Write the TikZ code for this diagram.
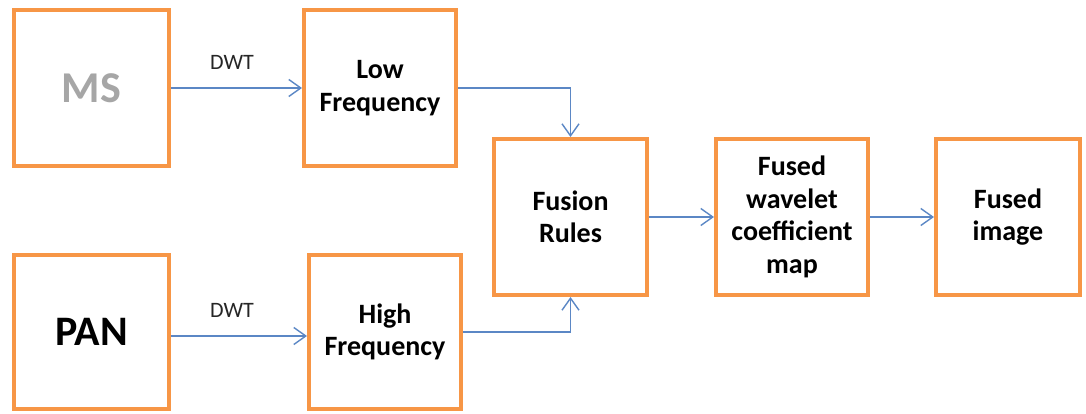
\documentclass[tikz,border=0pt]{standalone}
\usepackage{fontspec}
\setmainfont{Carlito}
\usetikzlibrary{arrows.meta}
\definecolor{boxorange}{HTML}{F79646}
\definecolor{flowblue}{HTML}{5B87C5}
\definecolor{msgray}{HTML}{A6A6A6}
\begin{document}
\begin{tikzpicture}[x=1pt,y=-1pt,
  stage/.style={draw=boxorange, line width=4pt, fill=white, rectangle,
    align=center, inner sep=0pt, text=black,
    font=\fontsize{28}{32.5}\selectfont\bfseries},
  flow/.style={draw=flowblue, line width=1.4pt,
    -{Straight Barb[length=12pt,width=17pt,line width=1.4pt]}},
  tag/.style={font=\fontsize{22}{24}\selectfont, text=black!85}]
  \useasboundingbox (0,0) rectangle (1086,414);

  % input images
  \node[stage, minimum width=155pt, minimum height=156pt,
    font=\fontsize{44}{48}\selectfont\bfseries, text=msgray] (ms) at (91.5,88) {MS};
  \node[stage, minimum width=155pt, minimum height=154pt,
    font=\fontsize{42}{46}\selectfont\bfseries] (pan) at (91.5,332) {PAN};

  % wavelet sub-bands
  \node[stage, minimum width=152pt, minimum height=156pt] (low) at (380,88) {Low\\Frequency};
  \node[stage, minimum width=152pt, minimum height=154pt] (high) at (385,332) {High\\Frequency};

  % fusion chain
  \node[stage, minimum width=153pt, minimum height=156pt] (rules) at (570.5,217) {Fusion\\Rules};
  \node[stage, minimum width=152pt, minimum height=156pt] (coef) at (792,217) {Fused\\wavelet\\coefficient\\map};
  \node[stage, minimum width=144pt, minimum height=156pt] (img) at (1008,217) {Fused\\image};

  % transforms
  \draw[flow] ([yshift=-4pt]pan.east) -- ([yshift=-4pt]pan.east -| high.west);
  \draw[flow] (ms.east) -- (low.west);
  \node[tag] (dwt1) at (232,62) {DWT};
  \node[tag] (dwt2) at (232,310) {DWT};

  % sub-bands into the fusion rules
  \draw[flow] (low.east) -| (rules.north);
  \draw[flow] (high.east) -| (rules.south);

  % fusion output
  \draw[flow] (rules.east) -- (coef.west);
  \draw[flow] (coef.east) -- (img.west);
\end{tikzpicture}
\end{document}
